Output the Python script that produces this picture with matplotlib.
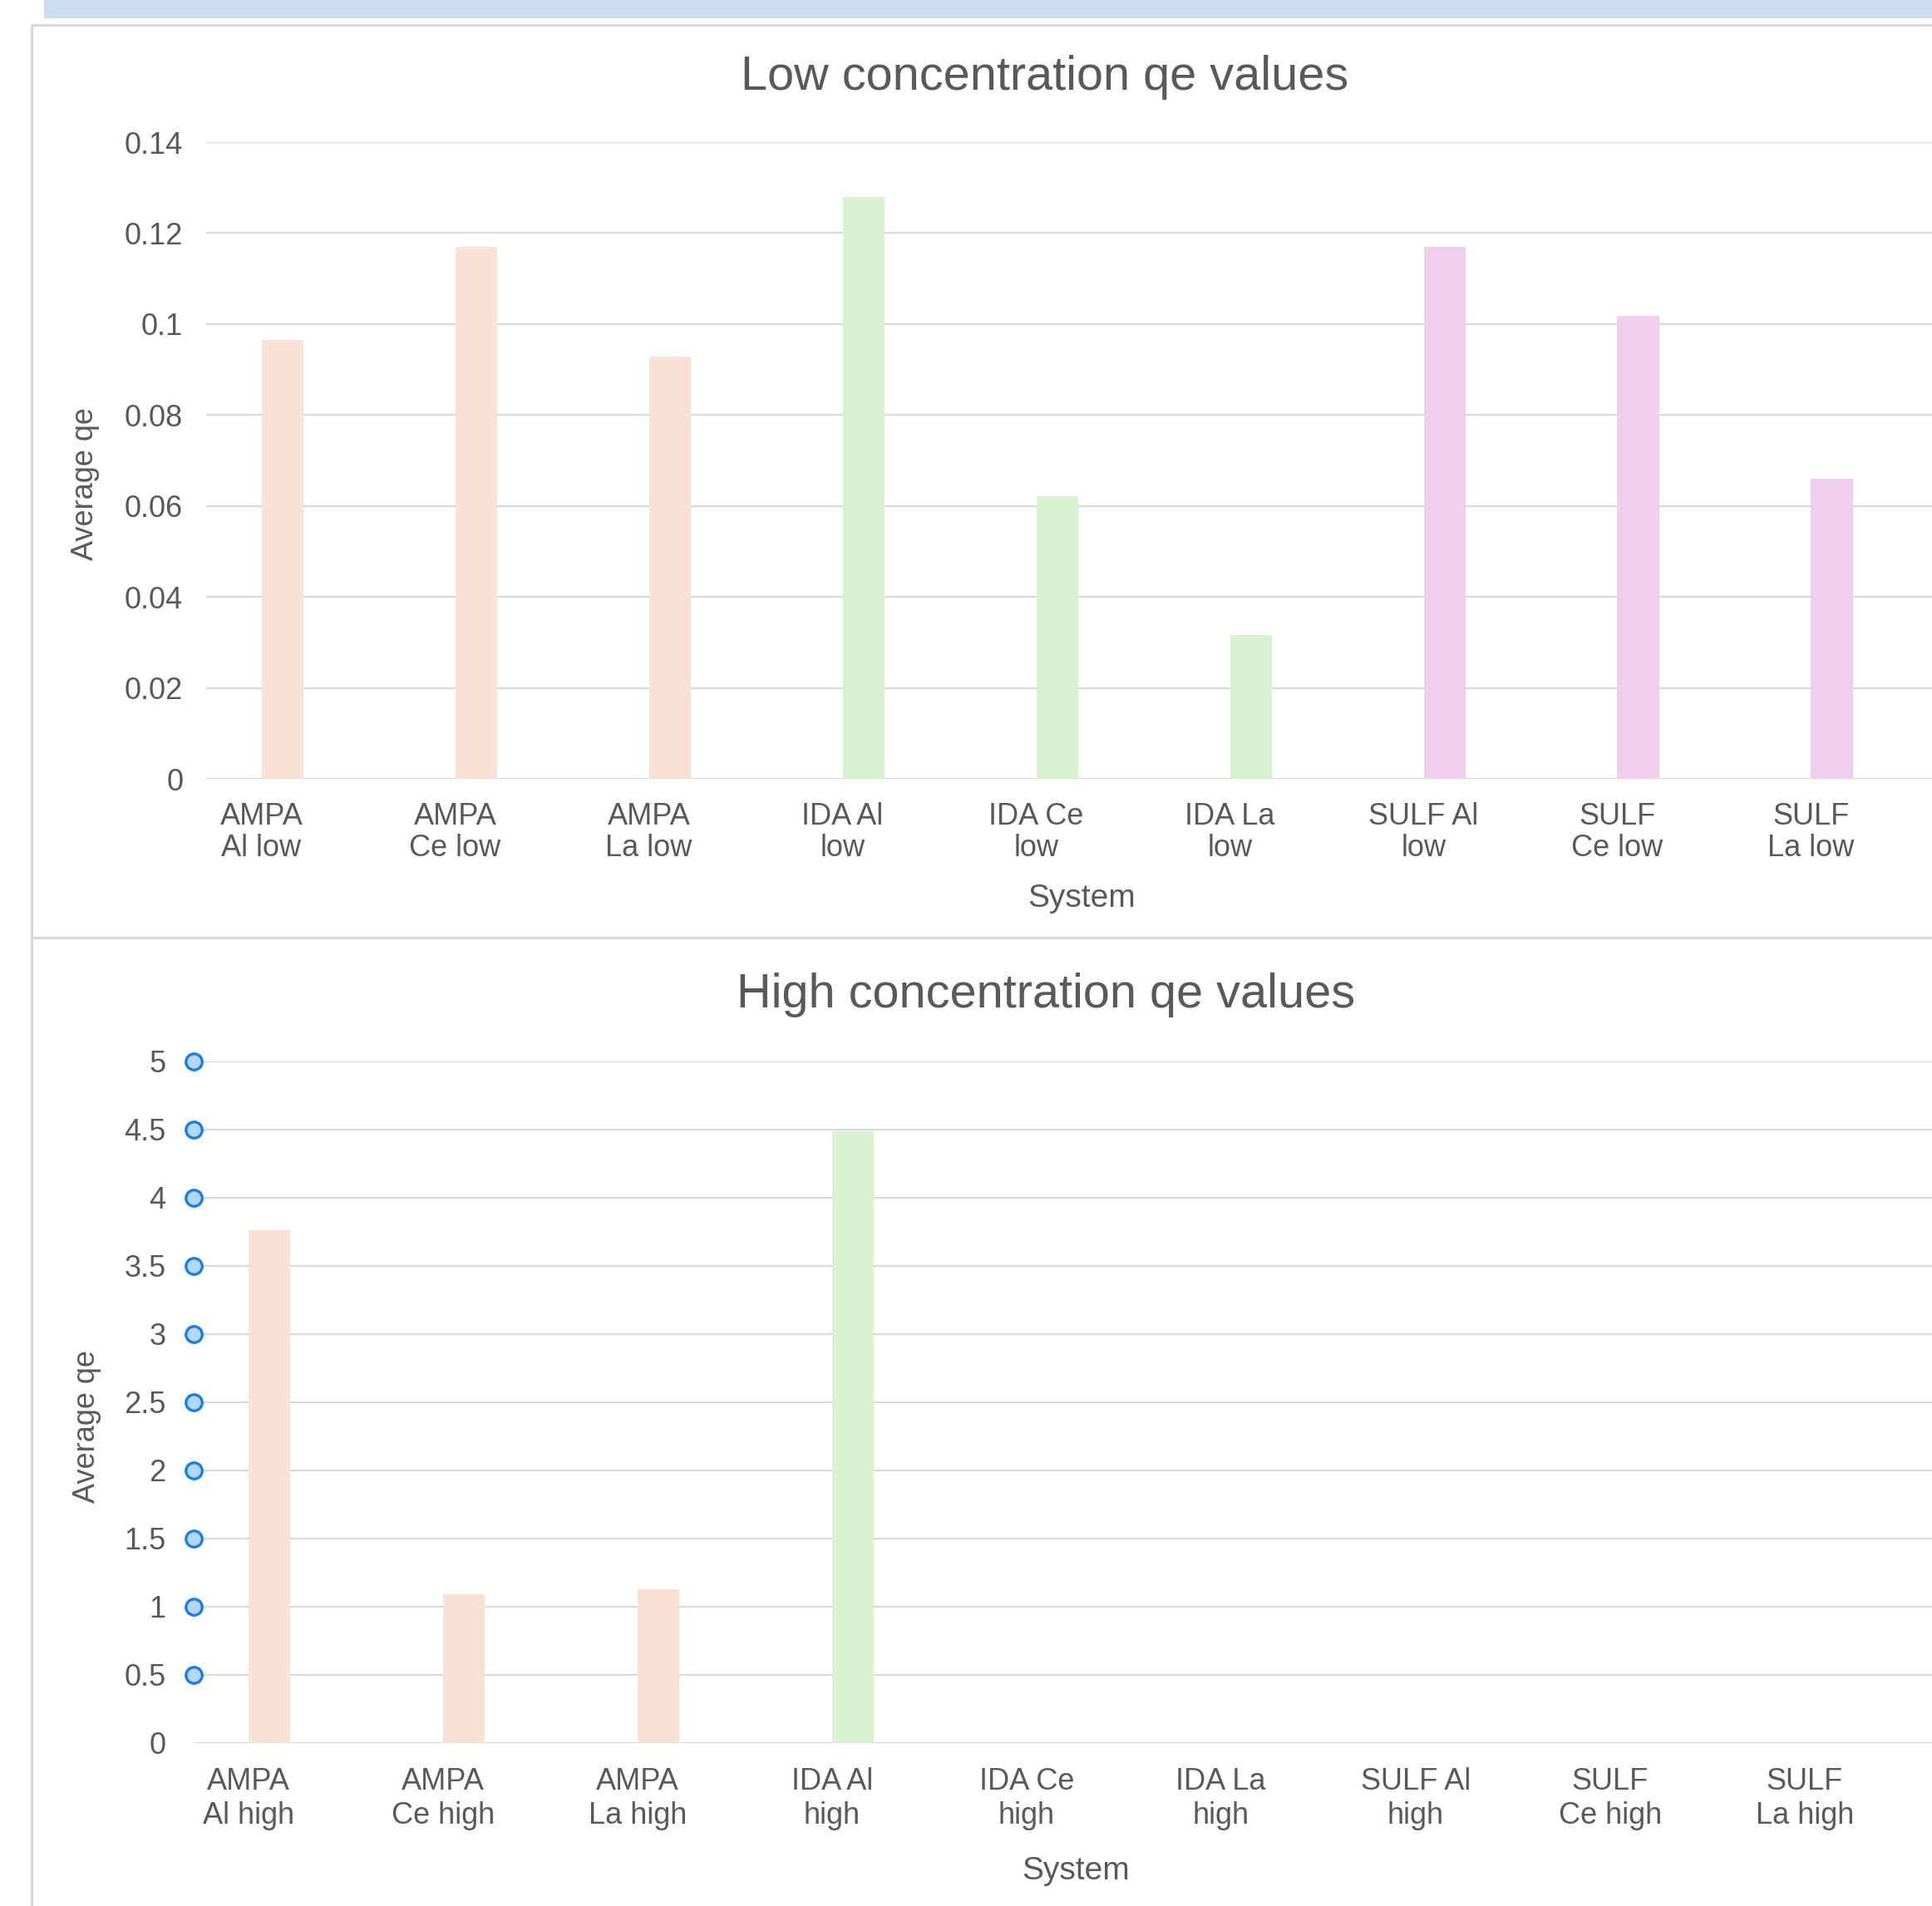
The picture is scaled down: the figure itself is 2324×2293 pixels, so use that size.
import numpy as np
import matplotlib.pyplot as plt
from matplotlib.patches import Rectangle
from matplotlib.lines import Line2D

plt.rcParams['font.family'] = ['Liberation Sans', 'DejaVu Sans']

# qe values per system
low_labels = ['AMPA\nAl low', 'AMPA\nCe low', 'AMPA\nLa low', 'IDA Al\nlow', 'IDA Ce\nlow',
              'IDA La\nlow', 'SULF Al\nlow', 'SULF\nCe low', 'SULF\nLa low']
low_qe = [0.0965, 0.117, 0.0928, 0.128, 0.0622, 0.0317, 0.117, 0.1018, 0.0659]

high_labels = ['AMPA\nAl high', 'AMPA\nCe high', 'AMPA\nLa high', 'IDA Al\nhigh', 'IDA Ce\nhigh',
               'IDA La\nhigh', 'SULF Al\nhigh', 'SULF\nCe high', 'SULF\nLa high']
high_qe = [3.76, 1.09, 1.128, 4.49, None, None, None, None, None]

groups = ['AMPA', 'AMPA', 'AMPA', 'IDA', 'IDA', 'IDA', 'SULF', 'SULF', 'SULF']
group_colors = {'AMPA': '#FAE1D6', 'IDA': '#DAF2D0', 'SULF': '#F0CEEE'}

low_ticks = np.arange(0, 0.141, 0.02)
high_ticks = np.arange(0, 5.01, 0.5)

TXT = '#595959'
GRID = '#D9D9D9'
W, H = 2324, 2293

fig = plt.figure(figsize=(W / 100, H / 100), dpi=100)
fig.patch.set_facecolor('white')

# header band and panel frame
fig.patches.append(Rectangle((53 / W, 1 - 22 / H), 1, 22 / H, transform=fig.transFigure,
                             color='#C9DCF0', lw=0, zorder=0))
for xs, ys in [((38 / W, 1), (1 - 30 / H, 1 - 30 / H)),
               ((38 / W, 38 / W), (1 - 30 / H, 0)),
               ((38 / W, 1), (1 - 1128 / H, 1 - 1128 / H))]:
    fig.add_artist(Line2D(xs, ys, transform=fig.transFigure, color=GRID, lw=2.2))


def draw_panel(ax, labels, values, ticks, ymax, xl, xr, ypad, xpad, lsp, handles):
    x = np.arange(len(labels))
    for i, v in enumerate(values):
        if v is None:
            continue
        ax.bar(x[i], v, width=0.215, color=group_colors[groups[i]], zorder=2)
    ax.set_xlim(xl, xr)
    ax.set_ylim(0, ymax)
    ax.set_yticks(ticks)
    ax.set_yticklabels([('%g' % t) for t in ticks])
    ax.set_xticks(x - 0.108)
    ax.set_xticklabels(labels, linespacing=lsp)
    ax.tick_params(axis='x', length=0, pad=xpad, labelsize=26, labelcolor=TXT)
    ax.tick_params(axis='y', length=0, pad=ypad, labelsize=26, labelcolor=TXT)
    for lab in ax.get_yticklabels():
        lab.set_va('center_baseline')
    for t in ticks:
        ax.axhline(t, color=GRID, lw=1.7, zorder=1)
    for s in ax.spines.values():
        s.set_visible(False)
    if handles:
        ax.plot(np.full(len(ticks) - 1, xl), ticks[1:], 'o', ms=14, mfc='#B3D7FA',
                mec='#1A7FE0', mew=2.4, clip_on=False, zorder=5)


ax1 = fig.add_axes([248 / W, 1 - 937 / H, 1 - 248 / W, (937 - 171) / H])
draw_panel(ax1, low_labels, low_qe, low_ticks, 0.14, -0.393, 8.517, 20, 20, 1.13, False)

ax2 = fig.add_axes([233 / W, 1 - 2097 / H, 1 - 233 / W, (2097 - 1277) / H])
draw_panel(ax2, high_labels, high_qe, high_ticks, 5, -0.389, 8.547, 24, 21, 1.22, True)

fig.text(1257 / W, 1 - 93 / H, 'Low concentration qe values', ha='center', va='center',
         fontsize=41.5, color=TXT)
fig.text(1258 / W, 1 - 1197 / H, 'High concentration qe values', ha='center', va='center',
         fontsize=41.5, color=TXT)
fig.text(1301 / W, 1 - 1081 / H, 'System', ha='center', va='center', fontsize=28, color=TXT)
fig.text(1294 / W, 1 - 2251 / H, 'System', ha='center', va='center', fontsize=28, color=TXT)
fig.text(103 / W, 1 - 582 / H, 'Average qe', ha='center', va='center', rotation=90,
         fontsize=26, color=TXT)
fig.text(104 / W, 1 - 1716 / H, 'Average qe', ha='center', va='center', rotation=90,
         fontsize=26, color=TXT)

fig.savefig('out.png', dpi=100)
